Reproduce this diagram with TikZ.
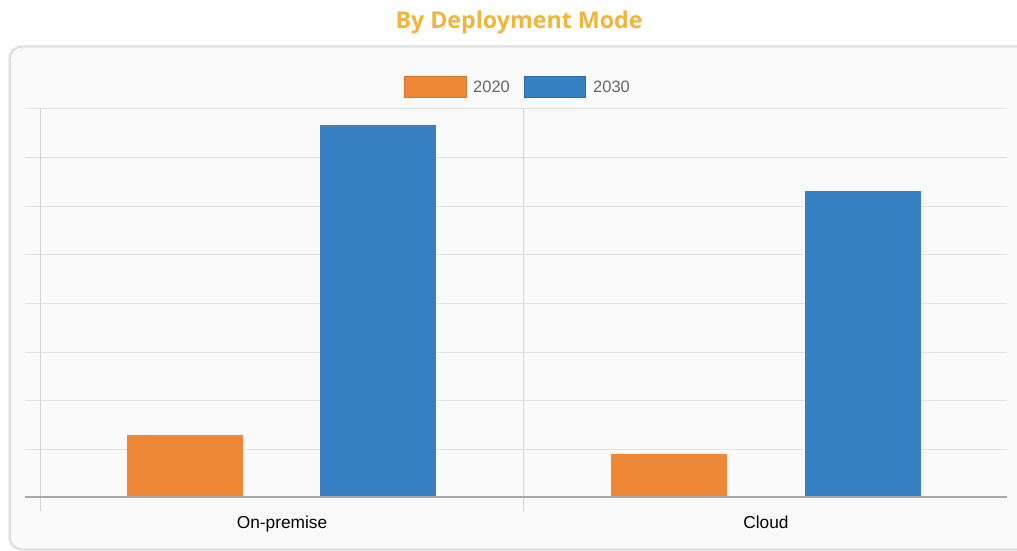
\documentclass[tikz,border=0pt]{standalone}
\usepackage{fontspec}
\setmainfont{Liberation Sans}
\newfontfamily\titlefont{Open Sans}
\definecolor{cOrange}{HTML}{EE8837}
\definecolor{cBlue}{HTML}{3880C4}
\definecolor{cBlueEdge}{HTML}{2A6BAD}
\definecolor{cTitle}{HTML}{F0B63C}
\definecolor{cGrid}{HTML}{E3E3E3}
\definecolor{cVGrid}{HTML}{D5D5D5}
\definecolor{cAxis}{HTML}{A8A8A8}
\definecolor{cCard}{HTML}{FAFAFA}
\definecolor{cBorder}{HTML}{D6D6D6}
\definecolor{cLegText}{HTML}{666666}
\tikzset{
  gridline/.style={draw=cGrid, line width=1pt},
  vgridline/.style={draw=cVGrid, line width=1pt},
  axisline/.style={draw=cAxis, line width=1.2pt},
  bar2020/.style={fill=cOrange, draw=none},
  bar2030/.style={fill=cBlue, draw=none},
  legtext/.style={font=\fontsize{16.5}{18}\selectfont, text=cLegText, anchor=west, inner sep=0pt},
  catlabel/.style={font=\fontsize{17.3}{19}\selectfont, text=black, inner sep=0pt, anchor=base},
}
\begin{document}
\begin{tikzpicture}[x=1pt,y=-1pt]
\useasboundingbox (0,0) rectangle (1017,551);
\fill[white] (0,0) rectangle (1017,551);
% card
\fill[black!8, rounded corners=13pt] (8,45) rectangle (1030,551);
\filldraw[fill=cCard, draw=cBorder, line width=1pt, rounded corners=12pt] (10,47) rectangle (1030,549);
% title
\node[font=\titlefont\bfseries\fontsize{23.2}{26}\selectfont, text=cTitle, inner sep=0pt] (title) at (519,22.5) {By Deployment Mode};
% grid lines
\foreach \y in {108,157,206,254,303,352,400,449} {
  \draw[gridline] (25,\y) -- (1007,\y);
}
\draw[vgridline] (523,108) -- (523,511);
\draw[vgridline] (40,108) -- (40,511);
% bars
\fill[bar2020] (127,435) rectangle (243,497);
\fill[bar2030] (320,125) rectangle (436,497);
\fill[bar2020] (611,454) rectangle (727,497);
\fill[bar2030] (805,191) rectangle (921,497);
% baseline
\draw[axisline] (25,497) -- (1007,497);
% legend
\filldraw[fill=cOrange, draw=cOrange!80!black!60!cOrange, line width=0.6pt] (404,76) rectangle (466,97);
\node[legtext] (l2020) at (473,86.5) {2020};
\filldraw[fill=cBlue, draw=cBlueEdge, line width=0.8pt] (524,76) rectangle (585,97);
\node[legtext] (l2030) at (593,86.5) {2030};
% category labels
\node[catlabel] (onprem) at (282,528) {On-premise};
\node[catlabel] (cloud) at (766,528) {Cloud};
\end{tikzpicture}
\end{document}
